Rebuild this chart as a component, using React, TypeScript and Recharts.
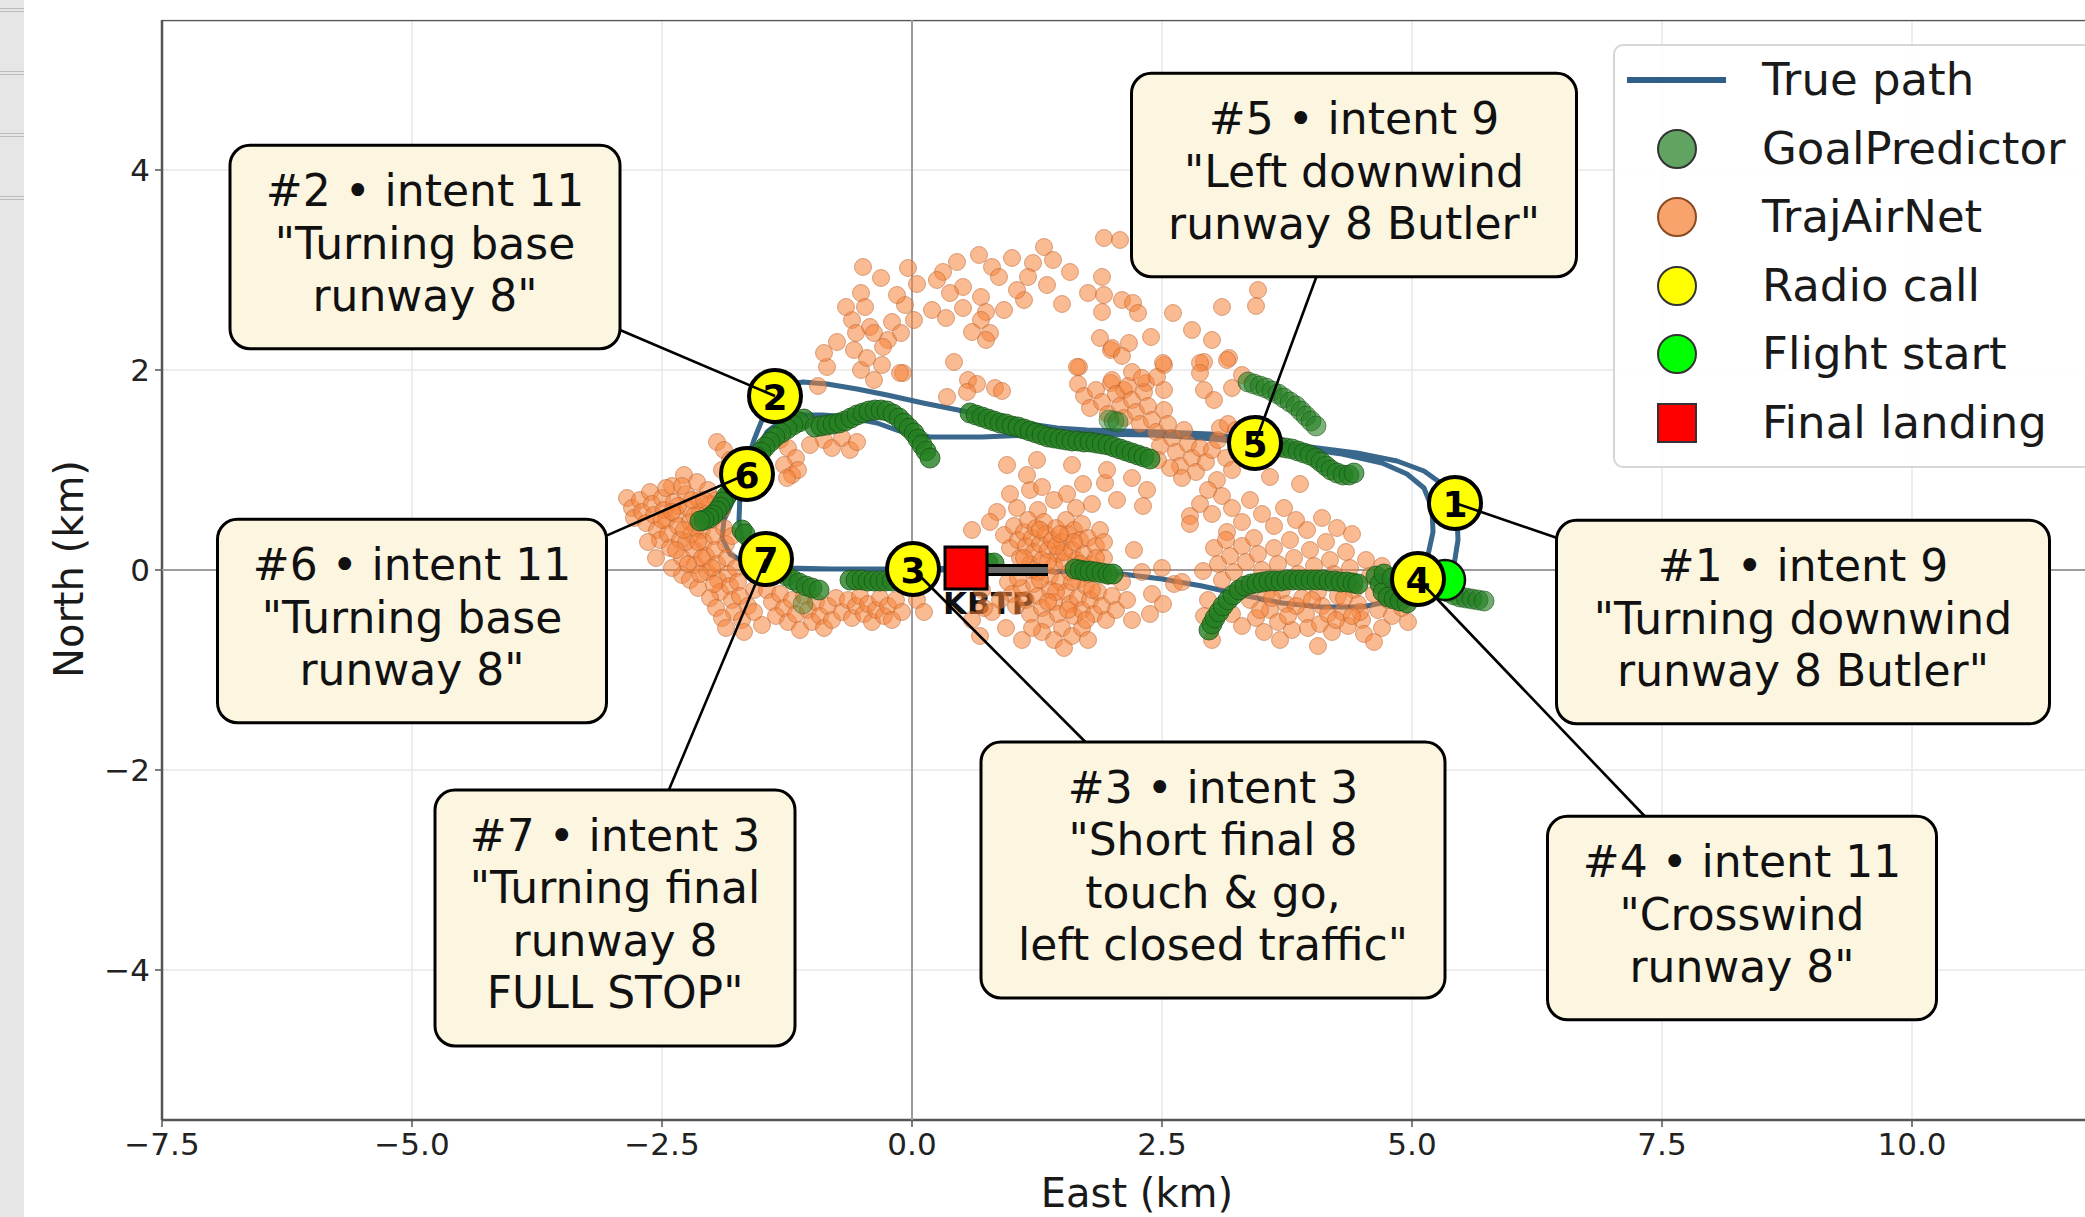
import React from 'react';
import { ScatterChart, Scatter, XAxis, YAxis, CartesianGrid, Legend } from 'recharts';

// ---------------- data (km east / north of the airfield reference) ----------------

const xTicks = [-7.5, -5, -2.5, 0, 2.5, 5, 7.5, 10];
const yTicks = [-4, -2, 0, 2, 4];
const xDomain: [number, number] = [-7.5, 12];
const yDomain: [number, number] = [-5.5, 5.5];

// Flown trajectory: two laps of the left-hand pattern for runway 8
const truePath: [number, number][] = [
  [5.33, -0.10], [5.42, 0.05], [5.46, 0.30], [5.45, 0.55], [5.40, 0.72], [5.30, 0.86], [5.12, 0.99],
  [4.85, 1.09], [4.45, 1.17], [3.90, 1.24], [3.40, 1.30], [2.98, 1.36], [2.50, 1.38], [2.11, 1.39],
  [1.75, 1.40], [1.45, 1.42], [1.11, 1.47], [0.80, 1.53], [0.51, 1.59], [0.11, 1.67], [-0.25, 1.75],
  [-0.55, 1.81], [-0.85, 1.86], [-1.09, 1.88], [-1.25, 1.85], [-1.37, 1.74], [-1.48, 1.55],
  [-1.58, 1.30], [-1.66, 1.05], [-1.72, 0.75], [-1.73, 0.50], [-1.70, 0.30], [-1.62, 0.14],
  [-1.48, 0.05], [-1.25, 0.02], [-0.80, 0.01], [-0.30, 0.01], [0.20, 0.00], [0.80, 0.00],
  [1.30, -0.01], [1.70, -0.02], [2.10, -0.04], [2.50, -0.09], [2.90, -0.16], [3.30, -0.25],
  [3.70, -0.33], [4.10, -0.37], [4.50, -0.37], [4.80, -0.31], [4.98, -0.18], [5.08, -0.02],
  [5.16, 0.15], [5.21, 0.38], [5.20, 0.62], [5.12, 0.82], [4.95, 0.96], [4.70, 1.07], [4.30, 1.16],
  [3.80, 1.23], [3.43, 1.27], [2.90, 1.32], [2.40, 1.35], [1.80, 1.36], [1.20, 1.35], [0.70, 1.33],
  [0.18, 1.33], [-0.10, 1.38], [-0.35, 1.47], [-0.65, 1.53], [-0.89, 1.55], [-1.10, 1.55],
  [-1.30, 1.50], [-1.45, 1.38], [-1.56, 1.18], [-1.65, 0.96], [-1.78, 0.72], [-1.88, 0.50],
  [-1.90, 0.32], [-1.82, 0.16], [-1.65, 0.06], [-1.40, 0.02], [-1.00, 0.01], [-0.50, 0.01],
  [0.00, 0.01], [0.54, 0.02],
];

// GoalPredictor rollouts, one list per predicted track
const goalPredictorArcs: [number, number][][] = [
  [[-1.08, 1.51], [-1.13, 1.48], [-1.19, 1.45], [-1.25, 1.41], [-1.31, 1.37], [-1.37, 1.33], [-1.42, 1.28],
   [-1.47, 1.23], [-1.51, 1.18], [-1.55, 1.13], [-1.59, 1.08], [-1.62, 1.03], [-1.66, 0.98], [-1.70, 0.93],
   [-1.74, 0.88], [-1.78, 0.83], [-1.82, 0.78], [-1.86, 0.73], [-1.89, 0.68], [-1.92, 0.63], [-1.95, 0.59],
   [-1.99, 0.55], [-2.03, 0.52], [-2.08, 0.50], [-2.12, 0.49]],
  [[-0.97, 1.43], [-0.91, 1.44], [-0.85, 1.45], [-0.79, 1.46], [-0.73, 1.47], [-0.67, 1.49], [-0.61, 1.52],
   [-0.55, 1.55], [-0.49, 1.57], [-0.43, 1.59], [-0.37, 1.60], [-0.31, 1.60], [-0.25, 1.59], [-0.19, 1.56],
   [-0.13, 1.52], [-0.08, 1.47], [-0.03, 1.42], [0.02, 1.37], [0.06, 1.31], [0.10, 1.25], [0.14, 1.19],
   [0.18, 1.12]],
  [[0.58, 1.57], [0.64, 1.55], [0.70, 1.53], [0.76, 1.51], [0.82, 1.49], [0.88, 1.47], [0.94, 1.46],
   [1.00, 1.44], [1.06, 1.43], [1.12, 1.41], [1.18, 1.39], [1.24, 1.37], [1.30, 1.35], [1.36, 1.33],
   [1.42, 1.32], [1.48, 1.31], [1.54, 1.30], [1.60, 1.29], [1.66, 1.29], [1.72, 1.28], [1.78, 1.28],
   [1.84, 1.27], [1.90, 1.26], [1.96, 1.25], [2.02, 1.23], [2.08, 1.21], [2.14, 1.19], [2.20, 1.17],
   [2.26, 1.15], [2.32, 1.13], [2.38, 1.11]],
  [[1.97, 1.50], [2.02, 1.49], [2.06, 1.48]],
  [[3.36, 1.88], [3.42, 1.86], [3.48, 1.84], [3.54, 1.82], [3.60, 1.79], [3.66, 1.76], [3.72, 1.72],
   [3.78, 1.68], [3.84, 1.64], [3.89, 1.59], [3.94, 1.54], [3.99, 1.49], [4.04, 1.44]],
  [[3.62, 1.24], [3.68, 1.23], [3.74, 1.22], [3.80, 1.21], [3.86, 1.19], [3.92, 1.17], [3.98, 1.15],
   [4.04, 1.12], [4.09, 1.08], [4.14, 1.04], [4.19, 1.00], [4.25, 0.97], [4.31, 0.95], [4.37, 0.95],
   [4.42, 0.97]],
  [[2.97, -0.60], [3.00, -0.54], [3.03, -0.48], [3.07, -0.42], [3.11, -0.36], [3.16, -0.30], [3.21, -0.25],
   [3.27, -0.20], [3.33, -0.16], [3.39, -0.14], [3.45, -0.13], [3.51, -0.12], [3.57, -0.11], [3.63, -0.11],
   [3.69, -0.11], [3.75, -0.10], [3.81, -0.10], [3.87, -0.10], [3.93, -0.10], [3.99, -0.10], [4.05, -0.10],
   [4.11, -0.10], [4.17, -0.11], [4.23, -0.11], [4.29, -0.12], [4.35, -0.12], [4.41, -0.13], [4.46, -0.14]],
  [[4.64, -0.06], [4.68, -0.14], [4.71, -0.22], [4.76, -0.27], [4.82, -0.29], [4.88, -0.31], [4.95, -0.33],
   [4.72, -0.04], [4.80, -0.08], [4.88, -0.10], [4.96, -0.12]],
  [[5.36, -0.22], [5.42, -0.25], [5.48, -0.27], [5.54, -0.28], [5.60, -0.29], [5.66, -0.30], [5.72, -0.31]],
  [[-0.62, -0.10], [-0.56, -0.10], [-0.50, -0.10], [-0.44, -0.11], [-0.38, -0.11], [-0.32, -0.11],
   [-0.26, -0.11], [-0.20, -0.11]],
  [[0.76, 0.07], [0.82, 0.07]],
  [[1.63, 0.01], [1.68, 0.00], [1.73, -0.01], [1.78, -0.01], [1.84, -0.02], [1.90, -0.03], [1.96, -0.04],
   [2.01, -0.04]],
  [[-1.70, 0.40], [-1.67, 0.36]],
  [[-1.30, -0.02], [-1.25, -0.06], [-1.19, -0.10], [-1.13, -0.13], [-1.06, -0.16], [-1.00, -0.18], [-0.93, -0.20]],
  [[-1.09, -0.34]],
];

// TrajAirNet samples
const trajAirNetPoints: [number, number][] = [
  // cloud north of the downwind leg
  [1.92, 3.32], [2.08, 3.30], [1.32, 3.23], [0.67, 3.15], [1.00, 3.12], [1.21, 3.07], [1.41, 3.10],
  [-0.49, 3.03], [-0.04, 3.02], [0.31, 2.98], [0.80, 3.03], [-0.31, 2.92], [0.25, 2.90], [0.51, 2.83],
  [0.87, 2.93], [1.16, 2.93], [1.58, 2.98], [1.90, 2.93], [-0.51, 2.77], [0.38, 2.77], [0.69, 2.73],
  [1.12, 2.70], [1.76, 2.77], [1.92, 2.75], [2.10, 2.70], [2.21, 2.67], [3.46, 2.80], [-0.47, 2.63],
  [-0.07, 2.65], [0.20, 2.60], [0.51, 2.62], [0.74, 2.58], [1.90, 2.58], [2.26, 2.57], [2.61, 2.57],
  [3.10, 2.63], [-0.60, 2.50], [-0.42, 2.43], [-0.20, 2.48], [0.02, 2.50], [0.34, 2.52], [0.69, 2.50],
  [0.78, 2.37], [-0.56, 2.37], [-0.38, 2.37], [-0.24, 2.30], [-0.11, 2.37], [0.74, 2.30], [-0.58, 2.20],
  [-0.29, 2.23], [0.42, 2.08], [0.56, 1.90], [1.99, 2.20], [2.17, 2.27], [2.39, 2.33], [2.92, 2.08],
  [3.17, 2.12], [1.67, 2.03], [2.52, 2.05], [-0.85, 2.03], [-0.09, 1.97], [-0.51, 2.00], [-0.38, 1.90],
  [0.83, 1.82], [1.99, 1.87], [2.12, 1.80], [2.34, 1.87], [2.52, 1.80], [-0.88, 2.17], [-0.94, 1.84],
  [-0.75, 2.28], [3.44, 2.64], [3.00, 2.30], [2.80, 2.40], [0.05, 2.86], [0.45, 3.08], [1.05, 2.80],
  [1.35, 2.85], [1.50, 2.66], [-0.15, 2.75], [-0.66, 2.63], [0.60, 2.38], [0.92, 2.60], [-0.45, 2.12],
  [-0.30, 2.05], [0.35, 1.73], [0.65, 1.86], [0.90, 1.79], [0.55, 1.78], [-0.12, 1.97],
  // along the downwind leg near call 5
  [1.66, 1.86], [1.72, 1.74], [1.78, 1.62], [1.84, 1.80], [1.90, 1.68], [1.96, 1.56], [2.00, 1.90],
  [2.04, 1.76], [2.08, 1.64], [2.12, 1.52], [2.16, 1.84], [2.20, 1.70], [2.24, 1.58], [2.28, 1.46],
  [2.32, 1.78], [2.36, 1.64], [2.40, 1.50], [2.44, 1.38], [2.48, 1.24], [2.52, 1.60], [2.56, 1.46],
  [2.60, 1.32], [2.64, 1.18], [2.68, 1.04], [2.72, 1.40], [2.76, 1.26], [2.80, 1.12], [2.84, 0.98],
  [2.70, 0.92], [2.58, 1.02], [2.46, 1.10], [2.88, 1.22], [2.94, 1.08], [3.00, 1.20], [3.06, 1.30],
  [3.14, 1.12], [3.20, 1.00], [3.08, 1.42], [3.16, 1.46], [3.24, 1.40], [2.20, 1.98], [2.30, 1.92],
  [1.88, 2.32], [2.00, 2.22], [2.10, 2.14], [2.45, 1.93], [2.51, 2.07], [2.88, 2.07], [1.65, 2.03],
  [2.92, 1.80], [3.02, 1.70], [3.15, 2.10], [2.88, 1.97], [3.20, 1.82], [3.30, 1.95],
  // west end, base turns
  [-1.95, 1.28], [-1.88, 1.20], [-1.82, 1.10], [-1.90, 1.00], [-1.32, 1.30], [-1.24, 1.22], [-1.16, 1.12],
  [-1.28, 1.05], [-1.20, 0.95], [-1.14, 1.00], [-1.25, 0.92], [-0.88, 1.30], [-0.80, 1.22], [-0.70, 1.32],
  [-0.62, 1.20], [-0.55, 1.28], [-1.02, 1.25],
  [-2.85, 0.72], [-2.80, 0.62], [-2.78, 0.52], [-2.72, 0.70], [-2.70, 0.58], [-2.66, 0.47], [-2.62, 0.78],
  [-2.60, 0.66], [-2.58, 0.55], [-2.55, 0.40], [-2.52, 0.30], [-2.50, 0.72], [-2.48, 0.60], [-2.46, 0.50],
  [-2.44, 0.36], [-2.42, 0.22], [-2.40, 0.84], [-2.38, 0.68], [-2.36, 0.56], [-2.34, 0.44], [-2.32, 0.30],
  [-2.30, 0.12], [-2.28, 0.95], [-2.26, 0.76], [-2.24, 0.62], [-2.22, 0.48], [-2.20, 0.36], [-2.18, 0.20],
  [-2.17, 0.05], [-2.15, 0.88], [-2.13, 0.70], [-2.12, 0.58], [-2.10, 0.40], [-2.08, 0.28], [-2.06, 0.14],
  [-2.05, -0.02], [-2.04, 0.80], [-2.02, 0.66], [-2.00, 0.50], [-1.98, 0.34], [-1.97, 0.20], [-1.95, 0.06],
  [-1.94, -0.10], [-1.92, -0.22], [-1.90, 0.60], [-1.88, 0.42], [-1.86, 0.26], [-1.85, 0.12], [-1.84, -0.04],
  [-1.82, -0.16], [-1.80, -0.30], [-1.78, -0.42], [-1.76, 0.02], [-1.74, -0.12], [-1.72, -0.26],
  [-1.70, -0.50], [-1.68, -0.62], [-2.30, -0.05], [-2.22, -0.10], [-2.14, -0.18], [-2.02, -0.28],
  [-1.96, -0.38], [-1.90, -0.48], [-1.86, -0.58], [-2.56, 0.12], [-2.64, 0.28], [-2.40, 0.02],
  [-2.26, 0.28], [-2.16, 0.42], [-2.06, 0.56], [-1.96, 0.70], [-2.34, 0.64], [-2.46, 0.82], [-2.20, 0.70],
  [-2.10, 0.12], [-2.00, 0.02], [-1.80, 0.34], [-1.62, 0.26], [-1.58, -0.20], [-1.64, -0.36],
  [-2.28, 0.40], [-2.18, 0.54], [-2.08, 0.70], [-2.36, 0.20], [-2.24, 0.06], [-2.12, -0.04], [-1.98, -0.14],
  [-2.50, 0.50], [-2.40, 0.58], [-2.30, 0.84], [-2.14, 0.28],
  // south of final approach
  [-1.45, -0.20], [-1.40, -0.32], [-1.36, -0.46], [-1.32, -0.24], [-1.28, -0.38], [-1.24, -0.52],
  [-1.20, -0.30], [-1.16, -0.44], [-1.12, -0.60], [-1.08, -0.26], [-1.04, -0.40], [-1.00, -0.52],
  [-0.96, -0.32], [-0.92, -0.46], [-0.88, -0.58], [-0.84, -0.36], [-0.80, -0.50], [-0.76, -0.28],
  [-0.70, -0.42], [-0.64, -0.30], [-0.60, -0.48], [-0.56, -0.36], [-0.52, -0.26], [-0.48, -0.44],
  [-0.44, -0.34], [-0.40, -0.52], [-0.36, -0.40], [-0.32, -0.28], [-0.28, -0.46], [-0.24, -0.36],
  [-0.20, -0.50], [-0.16, -0.30], [-0.10, -0.42], [0.05, -0.30], [0.12, -0.42], [-1.50, -0.55],
  [-1.58, -0.42],
  // around the runway
  [0.98, 0.76], [1.18, 0.80], [1.30, 0.83], [1.42, 0.70], [1.55, 0.76], [1.71, 0.86], [1.93, 0.87],
  [1.64, 0.62], [0.85, 0.58], [1.05, 0.62], [1.26, 0.60], [1.80, 0.66], [0.60, 0.40], [0.78, 0.48],
  [0.95, 1.05], [1.25, 1.10], [1.60, 1.05], [1.95, 1.00], [2.20, 0.92], [2.35, 0.80], [2.05, 0.70],
  [1.15, 0.95], [2.31, 0.64], [2.78, 0.54],
  [0.92, 0.35], [0.98, 0.22], [1.02, 0.44], [1.06, 0.30], [1.08, 0.12], [1.12, 0.38], [1.14, 0.24],
  [1.16, 0.50], [1.18, 0.06], [1.20, 0.32], [1.22, 0.18], [1.24, 0.42], [1.26, -0.02], [1.28, 0.26],
  [1.30, 0.10], [1.32, 0.48], [1.34, 0.36], [1.36, 0.20], [1.38, -0.06], [1.40, 0.30], [1.42, 0.04],
  [1.44, 0.42], [1.46, 0.16], [1.48, -0.12], [1.50, 0.28], [1.52, 0.08], [1.54, 0.50], [1.56, 0.36],
  [1.58, -0.02], [1.60, 0.20], [1.62, 0.40], [1.64, 0.10], [1.66, -0.10], [1.68, 0.30], [1.70, 0.46],
  [1.72, 0.16], [1.76, 0.32], [1.80, 0.06], [1.84, 0.24], [1.88, 0.40], [1.92, 0.12], [1.96, -0.06],
  [0.96, -0.12], [1.00, -0.24], [1.04, -0.36], [1.10, -0.18], [1.14, -0.30], [1.18, -0.44], [1.22, -0.14],
  [1.26, -0.26], [1.30, -0.38], [1.34, -0.50], [1.38, -0.20], [1.42, -0.32], [1.46, -0.44], [1.50, -0.58],
  [1.54, -0.22], [1.58, -0.34], [1.62, -0.46], [1.66, -0.28], [1.70, -0.40], [1.74, -0.16], [1.78, -0.30],
  [1.82, -0.44], [1.86, -0.22], [1.90, -0.36], [1.94, -0.50], [2.00, -0.26], [2.04, -0.40],
  [1.30, -0.62], [1.42, -0.70], [1.52, -0.78], [1.60, -0.66], [1.70, -0.58], [1.20, -0.58], [0.80, -0.42],
  [0.88, -0.30], [0.70, -0.20], [0.72, -0.38], [0.60, -0.50], [2.10, -0.12], [2.15, -0.30], [2.20, -0.50],
  [2.22, 0.20], [2.30, -0.02], [2.40, -0.24], [2.38, -0.44], [2.50, 0.02], [2.62, -0.14], [2.70, -0.12],
  [2.91, -0.01], [2.51, -0.34], [0.68, -0.66], [0.94, -0.58], [1.10, -0.70], [1.76, -0.70],
  [1.20, 0.00], [1.28, -0.10], [1.36, 0.08], [1.44, -0.22], [1.52, 0.18], [1.60, -0.12], [1.68, 0.06],
  [1.76, -0.04], [1.84, 0.12], [1.44, 0.24], [1.36, -0.32], [1.56, -0.40], [1.74, -0.50], [1.12, 0.12],
  [1.62, 0.28], [1.48, 0.36], [1.28, 0.40], [1.92, 0.28], [1.80, -0.20], [1.06, -0.08],
  // east end, crosswind turn
  [2.88, 0.66], [3.00, 0.56], [3.10, 0.74], [3.20, 0.62], [3.30, 0.48], [3.38, 0.70], [3.50, 0.56],
  [3.62, 0.44], [3.72, 0.62], [3.84, 0.50], [3.95, 0.40], [4.10, 0.52], [4.25, 0.42], [4.40, 0.36],
  [3.05, 0.90], [2.96, 0.80], [3.58, 0.93], [3.88, 0.86], [2.78, 0.46], [3.15, 0.38],
  [3.02, 0.22], [3.06, 0.06], [3.10, -0.10], [3.14, 0.30], [3.18, 0.14], [3.22, -0.02], [3.26, -0.20],
  [3.30, 0.24], [3.34, 0.08], [3.38, -0.30], [3.42, 0.32], [3.46, 0.16], [3.50, 0.00], [3.54, -0.24],
  [3.58, -0.40], [3.62, 0.22], [3.66, 0.06], [3.70, -0.20], [3.74, -0.34], [3.78, 0.30], [3.82, 0.12],
  [3.86, -0.04], [3.90, -0.28], [3.94, -0.44], [3.98, 0.20], [4.02, 0.04], [4.06, -0.22], [4.10, -0.36],
  [4.14, 0.28], [4.18, 0.10], [4.22, -0.04], [4.26, -0.26], [4.30, -0.42], [4.34, 0.18], [4.38, 0.02],
  [4.42, -0.20], [4.46, -0.34], [4.50, -0.50], [4.54, 0.10], [4.58, -0.06], [4.62, -0.24], [4.66, -0.40],
  [4.70, 0.04], [4.76, -0.30], [4.80, -0.46], [4.86, -0.20], [4.90, -0.38], [4.96, -0.52],
  [3.20, -0.44], [3.30, -0.56], [3.44, -0.48], [3.52, -0.62], [3.66, -0.52], [3.80, -0.60], [3.96, -0.58],
  [4.08, -0.54], [4.20, -0.62], [4.36, -0.56], [4.52, -0.64], [4.06, -0.76], [3.68, -0.70], [2.96, -0.30],
  [2.92, -0.46], [3.00, -0.70], [4.70, -0.58], [4.62, -0.72],
  [3.60, -0.28], [3.84, -0.36], [4.00, -0.30], [4.16, -0.44], [4.32, -0.28], [4.48, -0.42], [3.48, -0.40],
  [3.76, -0.46], [4.24, -0.50], [4.40, -0.46],
];

// Radio calls heard along the flight
const radioCalls = [
  { id: 1, x: 5.43, y: 0.67, intent: 9, phrase: ['"Turning downwind', 'runway 8 Butler"'] },
  { id: 2, x: -1.37, y: 1.74, intent: 11, phrase: ['"Turning base', 'runway 8"'] },
  { id: 3, x: 0.01, y: 0.01, intent: 3, phrase: ['"Short final 8', 'touch & go,', 'left closed traffic"'] },
  { id: 4, x: 5.06, y: -0.09, intent: 11, phrase: ['"Crosswind', 'runway 8"'] },
  { id: 5, x: 3.43, y: 1.27, intent: 9, phrase: ['"Left downwind', 'runway 8 Butler"'] },
  { id: 6, x: -1.65, y: 0.96, intent: 11, phrase: ['"Turning base', 'runway 8"'] },
  { id: 7, x: -1.46, y: 0.11, intent: 3, phrase: ['"Turning final', 'runway 8', 'FULL STOP"'] },
];

const flightStart = [{ x: 5.33, y: -0.10 }];
const finalLanding = [{ x: 0.54, y: 0.02 }];
const runwayEnds = [{ x: 0.45, y: 0.0 }, { x: 1.36, y: 0.0 }];
const airportLabel = [{ x: 0.31, y: -0.44, name: 'KBTP' }];

const legendLabels = ['True path', 'GoalPredictor', 'TrajAirNet', 'Radio call', 'Flight start', 'Final landing'];

// ---------------- layout & styling ----------------

const FONT = 'DejaVu Sans, Verdana, sans-serif';
const CHART_W = 2130;
const CHART_H = 1217;
const MARGIN = { top: 20, right: 18, bottom: 0, left: 62 };
const Y_AXIS_W = 100;
const X_AXIS_H = 97;

// callout box offsets (px from the call marker) and widths, in radio-call order
const calloutLayout = [
  { dx: 348, dy: 119, w: 493 },
  { dx: -350, dy: -149, w: 390 },
  { dx: 300, dy: 301, w: 464 },
  { dx: 324, dy: 339, w: 389 },
  { dx: 99, dy: -268, w: 445 },
  { dx: -335, dy: 147, w: 389 },
  { dx: -151, dy: 359, w: 360 },
];
const BOX_LINE_H = 52.5;
const BOX_PAD_Y = 23;

const PATH_COLOR = '#2f5f86';
const GREEN_FILL = '#247f22';
const GREEN_EDGE = '#1a5518';
const ORANGE_FILL = '#f5843a';
const ORANGE_EDGE = '#b45c28';
const arcOpacity = [0.8, 0.8, 0.8, 0.45, 0.6, 0.72, 0.8, 0.8, 0.65, 0.8, 0.8, 0.8, 0.8, 0.75, 0.4];

const toPts = (arr: [number, number][]) => arr.map(([x, y]) => ({ x, y }));
const minus = (s: string) => s.replace('-', '\u2212');

const NoMarker = () => <g />;

const orangeDot = (p: any) => (
  <circle cx={p.cx} cy={p.cy} r={8.5} fill={ORANGE_FILL} fillOpacity={0.55}
    stroke={ORANGE_EDGE} strokeOpacity={0.5} strokeWidth={1} />
);

const greenDot = (alpha: number) => (p: any) => (
  <circle cx={p.cx} cy={p.cy} r={10} fill={GREEN_FILL} fillOpacity={alpha}
    stroke={GREEN_EDGE} strokeOpacity={alpha} strokeWidth={1} />
);

const RadioMarker = (p: any) => (
  <g>
    <circle cx={p.cx} cy={p.cy} r={26} fill="#ffff00" stroke="#000" strokeWidth={4} />
    <text x={p.cx} y={p.cy + 1} textAnchor="middle" dominantBaseline="central"
      fontFamily={FONT} fontWeight="bold" fontSize={36} fill="#000">{p.payload.id}</text>
  </g>
);

const StartMarker = (p: any) => (
  <circle cx={p.cx} cy={p.cy} r={20} fill="#00ff00" stroke="#111" strokeWidth={2.5} />
);

const LandingMarker = (p: any) => (
  <rect x={p.cx - 21} y={p.cy - 21} width={42} height={42} fill="#ff0000" stroke="#000" strokeWidth={3} />
);

const AirportText = (p: any) => (
  <text x={p.cx} y={p.cy} fontFamily={FONT} fontWeight="bold" fontSize={31} fill="#111">{p.payload.name}</text>
);

const Callout = (p: any) => {
  const { cx, cy, payload } = p;
  const lay = calloutLayout[payload.id - 1];
  const lines = [`#${payload.id} \u2022 intent ${payload.intent}`, ...payload.phrase];
  const w = lay.w;
  const h = lines.length * BOX_LINE_H + 2 * BOX_PAD_Y;
  const bx = cx + lay.dx;
  const by = cy + lay.dy;
  const vx = cx - bx;
  const vy = cy - by;
  const t = Math.min(
    vx !== 0 ? w / 2 / Math.abs(vx) : Infinity,
    vy !== 0 ? h / 2 / Math.abs(vy) : Infinity,
  );
  const sx = bx + vx * t;
  const sy = by + vy * t;
  return (
    <g>
      <line x1={sx} y1={sy} x2={cx} y2={cy} stroke="#000" strokeWidth={2.6} />
      <rect x={bx - w / 2} y={by - h / 2} width={w} height={h} rx={20} ry={20}
        fill="#fcf6e1" stroke="#000" strokeWidth={3} />
      {lines.map((ln, i) => (
        <text key={i} x={bx} y={by - 4 + (i - (lines.length - 1) / 2) * BOX_LINE_H}
          textAnchor="middle" dominantBaseline="central" fontFamily={FONT} fontSize={44} fill="#111">
          {ln}
        </text>
      ))}
    </g>
  );
};

const LegendBox = () => {
  const rowH = 68.6;
  const swatch = (i: number) => {
    const c = 34;
    switch (i) {
      case 0:
        return <line x1={14} y1={c} x2={113} y2={c} stroke={PATH_COLOR} strokeWidth={6} />;
      case 1:
        return <circle cx={64} cy={c} r={19} fill={GREEN_FILL} fillOpacity={0.72} stroke="#333" strokeWidth={2} />;
      case 2:
        return <circle cx={64} cy={c} r={19} fill={ORANGE_FILL} fillOpacity={0.75} stroke="#8a4a22" strokeWidth={2} />;
      case 3:
        return <circle cx={64} cy={c} r={19} fill="#ffff00" stroke="#333" strokeWidth={2} />;
      case 4:
        return <circle cx={64} cy={c} r={19} fill="#00ff00" stroke="#333" strokeWidth={2} />;
      default:
        return <rect x={45} y={c - 19} width={38} height={38} fill="#ff0000" stroke="#333" strokeWidth={2} />;
    }
  };
  return (
    <div style={{
      position: 'relative', width: 520, height: 424, boxSizing: 'border-box',
      border: '2px solid #d6d6d6', borderRadius: 10, background: 'rgba(255,255,255,0.85)',
      fontFamily: FONT, fontSize: 45, color: '#1a1a1a',
    }}>
      {legendLabels.map((label, i) => (
        <div key={label} style={{
          position: 'absolute', left: -2, top: 36 + i * rowH - 34 - 2, height: 68,
          display: 'flex', alignItems: 'center', whiteSpace: 'nowrap',
        }}>
          <svg width={149} height={68} style={{ flex: 'none' }}>{swatch(i)}</svg>
          <span style={{ lineHeight: '68px' }}>{label}</span>
        </div>
      ))}
    </div>
  );
};

const xLabel = (props: any) => {
  const vb = props.viewBox || { x: 162, y: 1120, width: 1950, height: 97 };
  return (
    <text x={vb.x + vb.width / 2} y={1207} textAnchor="middle" fontFamily={FONT} fontSize={40} fill="#1a1a1a">
      East (km)
    </text>
  );
};

const yLabel = () => (
  <text x={0} y={0} transform="translate(83 569) rotate(-90)" textAnchor="middle"
    fontFamily={FONT} fontSize={40} fill="#1a1a1a">
    North (km)
  </text>
);

export default function App() {
  const pathPts = toPts(truePath);
  const orangePts = toPts(trajAirNetPoints);
  const tickStyle = { fontFamily: FONT, fontSize: 31, fill: '#222' };
  return (
    <div style={{ position: 'relative', width: 2085, height: 1217, overflow: 'hidden', background: '#fff' }}>
      <style>{'body{margin:0;overflow:hidden;}'}</style>
      <div style={{ position: 'absolute', left: 0, top: 0, width: 24, height: 1217, background: '#e6e6e6' }}>
        {[8, 71, 133, 196].map((y) => (
          <div key={y} style={{
            position: 'absolute', left: 0, top: y, width: 24, height: 2,
            borderTop: '1px solid #bcbcbc', borderBottom: '1px solid #bcbcbc',
          }} />
        ))}
      </div>
      <div style={{ position: 'absolute', left: 0, top: 0 }}>
        <ScatterChart width={CHART_W} height={CHART_H} margin={MARGIN} style={{ fontFamily: FONT }}>
          <CartesianGrid stroke="#e7e7e7" strokeWidth={1.5} />
          <XAxis type="number" dataKey="x" domain={xDomain} ticks={xTicks} allowDataOverflow
            height={X_AXIS_H} tickSize={7} tickMargin={6} tick={tickStyle}
            tickFormatter={(v: number) => minus(v.toFixed(1))}
            axisLine={{ stroke: '#555', strokeWidth: 2.5 }} tickLine={{ stroke: '#555', strokeWidth: 1.5 }}
            label={xLabel} />
          <YAxis type="number" dataKey="y" domain={yDomain} ticks={yTicks} allowDataOverflow
            width={Y_AXIS_W} tickSize={7} tickMargin={5} tick={tickStyle}
            tickFormatter={(v: number) => minus(String(v))}
            axisLine={{ stroke: '#555', strokeWidth: 2.5 }} tickLine={{ stroke: '#555', strokeWidth: 1.5 }}
            label={yLabel} />

          {/* frame top edge and the zero axes */}
          <Scatter data={[{ x: xDomain[0], y: yDomain[1] }, { x: xDomain[1], y: yDomain[1] }]}
            line={{ stroke: '#555', strokeWidth: 2.5 }} shape={NoMarker} isAnimationActive={false} />
          <Scatter data={[{ x: 0, y: yDomain[0] }, { x: 0, y: yDomain[1] }]}
            line={{ stroke: '#9c9c9c', strokeWidth: 2 }} shape={NoMarker} isAnimationActive={false} />
          <Scatter data={[{ x: xDomain[0], y: 0 }, { x: xDomain[1], y: 0 }]}
            line={{ stroke: '#9c9c9c', strokeWidth: 2 }} shape={NoMarker} isAnimationActive={false} />

          {/* flown trajectory */}
          <Scatter data={pathPts} line={{ stroke: PATH_COLOR, strokeWidth: 5, strokeLinejoin: 'round', strokeOpacity: 0.95 }}
            lineType="joint" shape={NoMarker} isAnimationActive={false} />

          <Scatter data={airportLabel} shape={AirportText} isAnimationActive={false} />

          <Scatter data={orangePts} shape={orangeDot} isAnimationActive={false} />

          {goalPredictorArcs.map((arc, i) => (
            <Scatter key={`gp${i}`} data={toPts(arc)} shape={greenDot(arcOpacity[i] ?? 0.8)} isAnimationActive={false} />
          ))}

          {/* runway 8 */}
          <Scatter data={runwayEnds} line={{ stroke: '#000', strokeWidth: 12 }} shape={NoMarker} isAnimationActive={false} />
          <Scatter data={runwayEnds} line={{ stroke: '#6a6a6a', strokeWidth: 6 }} shape={NoMarker} isAnimationActive={false} />

          <Scatter data={finalLanding} shape={LandingMarker} isAnimationActive={false} />
          <Scatter data={flightStart} shape={StartMarker} isAnimationActive={false} />
          <Scatter data={radioCalls} shape={RadioMarker} isAnimationActive={false} />
          <Scatter data={radioCalls} shape={Callout} isAnimationActive={false} />

          <Legend layout="horizontal" verticalAlign="middle" align="center" content={LegendBox}
            wrapperStyle={{ left: 1613, top: 44, width: 520, height: 424 }} />
        </ScatterChart>
      </div>
    </div>
  );
}
